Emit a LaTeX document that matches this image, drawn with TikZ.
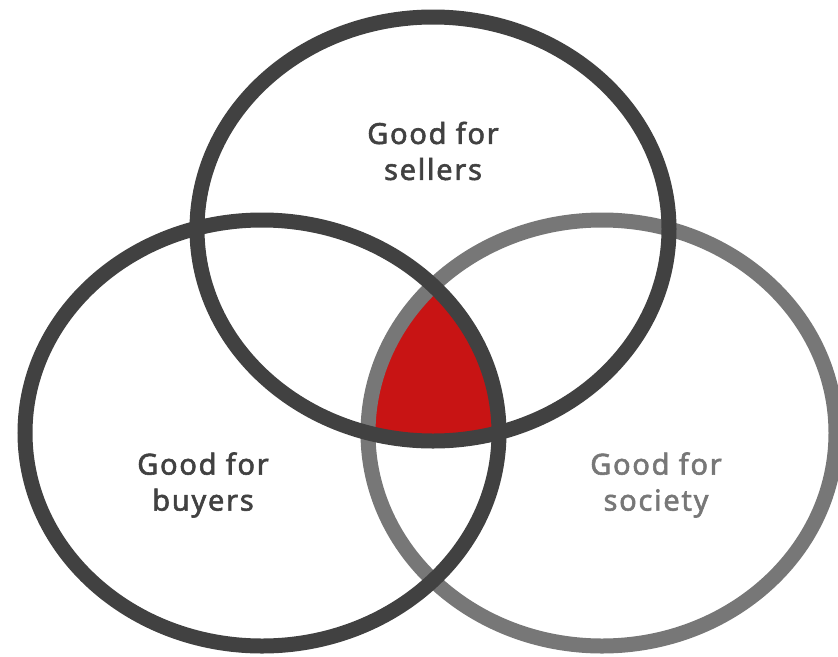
\documentclass[tikz,border=0pt]{standalone}
\usepackage{fontspec}
\setmainfont[LetterSpace=6, FakeBold=2]{Noto Sans}
\definecolor{darkring}{HTML}{414141}
\definecolor{grayring}{HTML}{777777}
\definecolor{redfill}{HTML}{C81414}
\begin{document}
\begin{tikzpicture}[x=1pt,y=-1pt,
  ring/.style={line width=15pt},
  lbl/.style={font=\fontsize{29}{36}\selectfont, align=center, inner sep=0pt}]
\useasboundingbox (0,0) rectangle (838,656);
% red triple intersection
\begin{scope}
  \clip (433,229) ellipse [x radius=236, y radius=212];
  \clip (262,433) ellipse [x radius=237, y radius=213];
  \fill[redfill] (602,433) ellipse [x radius=234, y radius=213];
\end{scope}
% rings
\draw[ring, grayring] (602,433) ellipse [x radius=234, y radius=213];
\draw[ring, darkring] (262,433) ellipse [x radius=237, y radius=213];
\draw[ring, darkring] (433,229) ellipse [x radius=236, y radius=212];
% labels
\node[lbl, text=darkring] (sellers) at (433,151) {Good for\\sellers};
\node[lbl, text=darkring] (buyers) at (203,485) {Good for\\buyers};
\node[lbl, text=grayring] (society) at (656,485) {Good for\\society};
\end{tikzpicture}
\end{document}
